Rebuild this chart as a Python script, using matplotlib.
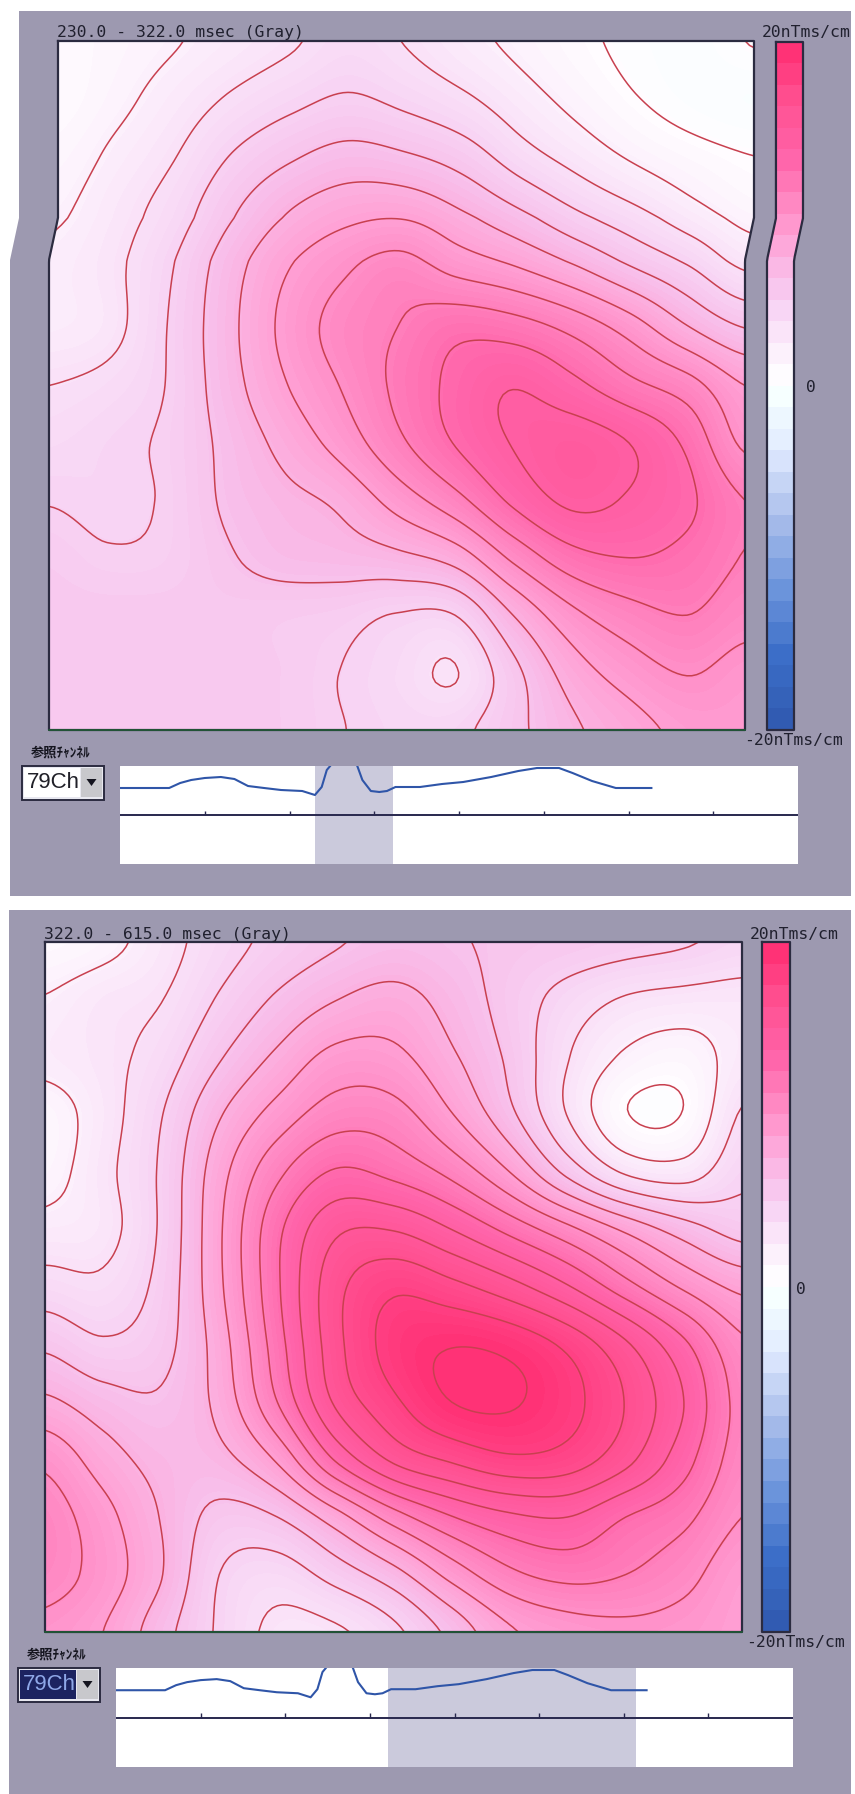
import matplotlib
matplotlib.use("Agg")
import matplotlib.pyplot as plt
import numpy as np
from matplotlib.colors import LinearSegmentedColormap
from matplotlib.patches import Polygon, Rectangle

W, H = 855, 1794

# map values, in contour steps, read at evenly spaced nodes (top row first)
top_map = [
    [1.2, 1.55, 1.93, 2.4, 2.87, 3.4, 2.95, 2.3, 1.75, 1.2, 0.75, 0.6, 1.05],
    [1.2, 1.75, 2.42, 3.12, 3.7, 4.1, 3.72, 3.15, 2.37, 1.65, 1.02, 0.6, 0.45],
    [1.55, 2.2, 2.95, 4.05, 4.85, 5.35, 5.1, 4.5, 3.4, 2.55, 1.8, 1.3, 1.0],
    [1.9, 2.6, 3.5, 4.9, 6.05, 6.7, 6.8, 6.05, 5.1, 4.05, 3.2, 2.3, 1.6],
    [2.2, 2.7, 3.8, 5.4, 6.85, 7.8, 8.5, 7.8, 7.2, 6.3, 5.2, 4.2, 3.0],
    [2.3, 2.65, 3.95, 5.55, 7.15, 8.35, 9.0, 9.7, 9.5, 8.75, 7.6, 6.1, 5.0],
    [3.0, 3.3, 4.0, 5.45, 6.85, 8.0, 9.2, 10.25, 10.95, 10.3, 9.3, 8.45, 7.0],
    [3.47, 3.75, 4.15, 5.2, 6.25, 7.35, 8.75, 10.05, 11.05, 11.5, 11.0, 9.8, 7.8],
    [3.95, 3.8, 4.1, 5.1, 5.7, 6.2, 7.4, 8.65, 10.2, 11.2, 10.9, 10.2, 9.0],
    [4.4, 4.1, 4.2, 4.85, 5.35, 5.5, 5.75, 6.4, 8.2, 9.6, 10.0, 9.7, 8.95],
    [4.6, 4.6, 4.6, 4.6, 4.5, 4.35, 3.95, 4.0, 6.0, 7.7, 8.6, 9.0, 8.4],
    [4.6, 4.6, 4.6, 4.55, 4.45, 4.0, 3.5, 2.95, 4.7, 6.45, 7.45, 8.05, 7.6],
    [4.6, 4.6, 4.6, 4.55, 4.45, 4.05, 3.7, 3.75, 4.7, 5.8, 6.6, 7.25, 7.4],
]
bottom_map = [
    [1.3, 1.65, 2.55, 3.55, 4.3, 4.9, 5.3, 5.1, 4.8, 4.6, 4.35, 4.1, 3.7],
    [2.05, 2.6, 2.97, 4.1, 5.15, 5.97, 6.35, 5.6, 4.6, 3.6, 2.9, 2.65, 2.6],
    [2.3, 2.7, 3.45, 4.9, 6.2, 7.3, 7.25, 6.15, 4.8, 3.05, 1.85, 1.5, 2.4],
    [1.5, 2.55, 3.95, 5.9, 7.4, 8.5, 8.4, 7.05, 5.25, 2.95, 1.05, 1.05, 3.1],
    [1.6, 2.7, 4.15, 6.6, 8.75, 10.1, 9.7, 8.7, 7.0, 4.7, 2.85, 2.5, 3.75],
    [2.35, 2.65, 4.15, 6.85, 9.75, 11.8, 11.95, 11.0, 9.7, 8.3, 6.8, 5.5, 4.6],
    [3.45, 3.25, 4.35, 6.8, 9.85, 12.65, 13.8, 13.3, 12.4, 11.1, 9.4, 7.85, 6.75],
    [4.8, 4.15, 4.65, 6.5, 9.55, 12.65, 14.4, 14.95, 14.7, 13.75, 12.15, 10.2, 8.2],
    [6.2, 5.45, 5.15, 6.3, 9.0, 12.15, 13.8, 15.0, 15.1, 14.35, 12.95, 11.0, 8.65],
    [7.75, 6.5, 5.65, 5.7, 7.15, 10.1, 12.2, 13.15, 13.8, 13.55, 12.3, 10.4, 8.5],
    [8.5, 7.35, 5.95, 4.7, 5.0, 6.55, 8.5, 9.95, 10.8, 11.0, 10.0, 9.25, 8.0],
    [8.45, 7.55, 6.05, 4.0, 3.5, 4.4, 5.6, 7.35, 8.75, 9.3, 9.0, 8.35, 7.3],
    [7.7, 7.0, 5.4, 3.85, 2.75, 2.85, 3.75, 5.3, 6.85, 7.5, 7.75, 7.6, 7.1],
]
top_lines = list(range(1, 12))
bottom_lines = list(range(1, 16))
nt_per_step = 4 / 3

# reference channel trace
signal_ms = [0, 58, 71, 84, 100, 119, 135, 151, 170, 190, 215, 230, 238, 244, 248,
             264, 280, 286, 296, 306, 315, 325, 354, 380, 405, 438, 470, 492, 518,
             534, 557, 585, 627]
signal_amp = [27, 27, 32, 35, 37, 38, 36, 29, 27, 25, 24, 20, 28, 45, 49,
              70, 49, 35, 24, 23, 24, 28, 28, 31, 33, 38, 44, 47, 47,
              42, 34, 27, 27]
tick_ms = [100, 200, 300, 400, 500, 600, 700]

scale_nt = [-20, -15, -11, -7, -3, 0, 1.5, 2.7, 5, 7, 9.5, 12, 14, 17.3, 18.5, 20]
scale_rgb = [(45, 85, 170), (60, 110, 200), (110, 150, 220), (170, 190, 235),
             (225, 235, 255), (245, 255, 255), (255, 252, 255), (252, 240, 252),
             (248, 215, 245), (248, 192, 235), (255, 160, 212), (255, 128, 188),
             (255, 100, 170), (255, 80, 145), (255, 68, 135), (255, 50, 118)]

cmap = LinearSegmentedColormap.from_list(
    "field", [((v + 20) / 40, tuple(c / 255 for c in rgb)) for v, rgb in zip(scale_nt, scale_rgb)]
)

BG = "#9d99b0"
FRAME = "#2b2b40"
LINE = "#c8404f"
BAND = "#cbcadc"
TRACE = "#2f55a8"


def top_shift(y):
    # the scan slips sideways by a few pixels near the top of the upper panel
    return 9 * np.clip((260 - np.asarray(y, dtype=float)) / 42, 0, 1)


def no_shift(y):
    return np.zeros_like(np.asarray(y, dtype=float))


def fine_axis(values, factor):
    # Catmull-Rom along the first axis, keeps the read values at the nodes
    n = values.shape[0]
    pos = np.linspace(0, n - 1, (n - 1) * factor + 1)
    i = np.clip(np.floor(pos).astype(int), 0, n - 2)
    t = (pos - i)[:, None]
    p1, p2 = values[i], values[i + 1]
    p0 = values[np.maximum(i - 1, 0)]
    p3 = values[np.minimum(i + 2, n - 1)]
    return 0.5 * (2 * p1 + (p2 - p0) * t + (2 * p0 - 5 * p1 + 4 * p2 - p3) * t ** 2
                  + (3 * p1 - p0 - 3 * p2 + p3) * t ** 3)


fig = plt.figure(figsize=(W / 100, H / 100), dpi=100, facecolor="white")
ax = fig.add_axes([0, 0, 1, 1])
ax.set_xlim(0, W)
ax.set_ylim(H, 0)
ax.axis("off")


def draw_map(values, lines, box, shift):
    x0, x1, y0, y1 = box
    z = fine_axis(fine_axis(np.array(values), 12).T, 12).T
    xs, ys = np.meshgrid(np.linspace(x0, x1, z.shape[1]), np.linspace(y0, y1, z.shape[0]))
    xs = xs + shift(ys)
    fill = np.linspace(-20, 20, 129)
    ax.contourf(xs, ys, z * nt_per_step, levels=fill, cmap=cmap, vmin=-20, vmax=20, extend="both", zorder=2)
    ax.contour(xs, ys, z, levels=lines, colors=LINE, linewidths=1.1, zorder=3)
    ey = np.linspace(y0, y1, 200)
    ax.plot(np.r_[x0 + shift(ey), (x1 + shift(ey))[::-1], x0 + shift(ey[0])],
            np.r_[ey, ey[::-1], ey[0]], color=FRAME, lw=1.6, zorder=4)
    ax.plot([x0, x1], [y1, y1], color="#1f5a35", lw=1.2, zorder=5)


def draw_scale(box, shift):
    x0, x1, y0, y1 = box
    steps = np.linspace(20, -20, 33)
    edge_y = np.linspace(y0, y1, 161)
    cx = np.array([[x0], [x1]]) + shift(edge_y)
    cy = np.tile(edge_y, (2, 1))
    cv = np.repeat(steps[:-1], 5)[None, :]
    ax.pcolormesh(cx, cy, cv, cmap=cmap, vmin=-20, vmax=20, shading="flat", zorder=2)
    ax.plot(np.r_[x0 + shift(edge_y), (x1 + shift(edge_y))[::-1], x0 + shift(edge_y[0])],
            np.r_[edge_y, edge_y[::-1], edge_y[0]], color=FRAME, lw=1.6, zorder=4)


def draw_strip(box, band):
    x0, x1, y0, y1 = box
    sub = fig.add_axes([x0 / W, 1 - y1 / H, (x1 - x0) / W, (y1 - y0) / H])
    sub.set_xlim(0, 800)
    sub.set_ylim(-49, 49)
    sub.axis("off")
    sub.add_patch(Rectangle((0, -49), 800, 98, color="white", zorder=0))
    sub.axvspan(band[0], band[1], color=BAND, lw=0, zorder=1)
    sub.axhline(0, color="#28284e", lw=1.4, zorder=2)
    sub.vlines(tick_ms, 0, 4, color="#28284e", lw=1, zorder=2)
    sub.plot(signal_ms, signal_amp, color=TRACE, lw=1.5, zorder=3)


def draw_picker(box, selected):
    x0, x1, y0, y1 = box
    face = "#1c2360" if selected else "white"
    ax.add_patch(Rectangle((x0, y0), x1 - x0, y1 - y0, fc="#e8e8f0", ec=FRAME, lw=1.4, zorder=3))
    ax.add_patch(Rectangle((x0 + 2, y0 + 2), x1 - x0 - 26, y1 - y0 - 5, fc=face, ec="none", zorder=4))
    ax.add_patch(Rectangle((x1 - 23, y0 + 2), 21, y1 - y0 - 5, fc="#c8c8cc", ec="none", zorder=4))
    cx, cy = x1 - 12.5, (y0 + y1) / 2 - 1
    ax.add_patch(Polygon([(cx - 5, cy - 3), (cx + 5, cy - 3), (cx, cy + 4)], fc="#15151f", zorder=5))
    ax.text(x0 + 5, (y0 + y1) / 2, "79Ch", family="Liberation Sans", fontsize=16,
            color="#8fa8e8" if selected else "#202028", va="center", ha="left", zorder=6)
    ax.text(x0 + 9, y0 - 14, "参照ﾁｬﾝﾈﾙ", family=["Noto Sans CJK JP", "DejaVu Sans"], fontsize=9.5,
            color="#15151f", weight="bold", va="center", ha="left", zorder=6)


def label(x, y, text):
    ax.text(x, y, text, family="DejaVu Sans Mono", fontsize=11.8, color="#20202e",
            va="center", ha="left", zorder=6)


# upper card
yy = np.array([11, 218, 260, 896])
ax.fill(np.r_[10 + top_shift(yy), 851, 851], np.r_[yy, 896, 11], color=BG, lw=0, zorder=1)
draw_map(top_map, top_lines, (49, 745, 41, 730), top_shift)
draw_scale((767, 794, 42, 730), top_shift)
label(57, 33, "230.0 - 322.0 msec (Gray)")
label(762, 33, "20nTms/cm")
label(806, 387, "0")
label(744, 741, "-20nTms/cm")
draw_picker((22, 104, 766, 800), False)
draw_strip((120, 798, 766, 864), (230, 322))

# lower card
ax.add_patch(Rectangle((9, 910), 842, 884, color=BG, lw=0, zorder=1))
draw_map(bottom_map, bottom_lines, (45, 742, 942, 1632), no_shift)
draw_scale((762, 790, 942, 1632), no_shift)
label(44, 934, "322.0 - 615.0 msec (Gray)")
label(750, 934, "20nTms/cm")
label(796, 1289, "0")
label(746, 1642, "-20nTms/cm")
draw_picker((18, 100, 1668, 1702), True)
draw_strip((116, 793, 1668, 1767), (322, 615))

fig.savefig("out.png", dpi=100, facecolor="white")
